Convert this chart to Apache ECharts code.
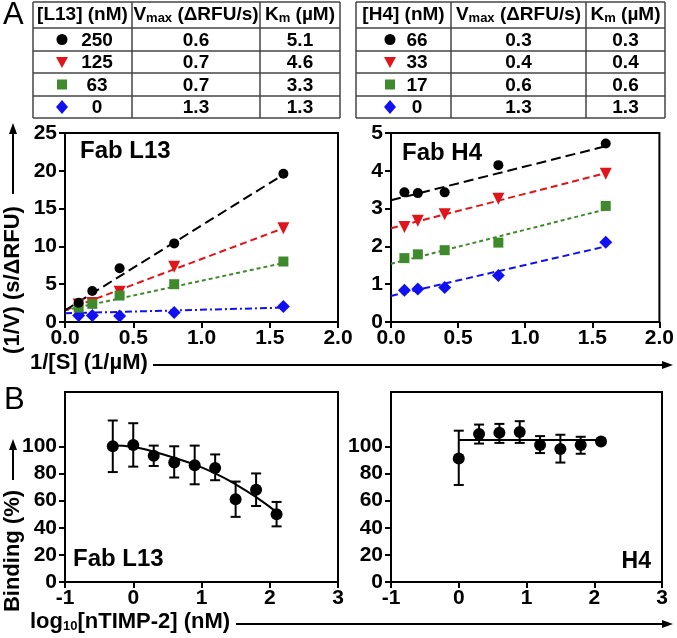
<!DOCTYPE html>
<html>
<head>
<meta charset="utf-8">
<title>ECharts</title>
<script src="https://cdn.jsdelivr.net/npm/echarts@6/dist/echarts.min.js"></script>
</head>
<body style="margin:0;background:#fff">
<div id="main" style="width:677px;height:638px;"></div>
<script type="text/javascript">
// Lineweaver-Burk data (1/[S] in 1/uM, 1/V in s/dRFU)
var invS = [0.1, 0.2, 0.4, 0.8, 1.6];
var l13Black = [2.55, 4.1, 7.1, 10.4, 19.6];
var l13Red = [2.3, 2.5, 4.0, 7.3, 12.4];
var l13Green = [1.9, 2.4, 3.5, 5.0, 8.0];
var l13Blue = [0.85, 0.85, 0.8, 1.25, 2.05];
var l13BlackFit = [[0, 1.55], [1.6, 19.5]];
var l13RedFit = [[0, 1.55], [1.6, 12.4]];
var l13GreenFit = [[0, 1.55], [1.6, 7.8]];
var l13BlueFit = [[0, 1.15], [1.6, 1.9]];

var h4Black = [3.43, 3.41, 3.43, 4.15, 4.72];
var h4Red = [2.51, 2.68, 2.85, 3.26, 3.92];
var h4Green = [1.69, 1.79, 1.9, 2.1, 3.07];
var h4Blue = [0.84, 0.87, 0.91, 1.23, 2.11];
var h4BlackFit = [[0, 3.22], [1.6, 4.65]];
var h4RedFit = [[0, 2.48], [1.6, 3.94]];
var h4GreenFit = [[0, 1.54], [1.6, 2.98]];
var h4BlueFit = [[0, 0.69], [1.6, 2.0]];

// table values
var l13Conc = ['250', '125', '63', '0'];
var l13Vmax = ['0.6', '0.7', '0.7', '1.3'];
var l13Km = ['5.1', '4.6', '3.3', '1.3'];
var h4Conc = ['66', '33', '17', '0'];
var h4Vmax = ['0.3', '0.4', '0.6', '1.3'];
var h4Km = ['0.3', '0.4', '0.6', '1.3'];

// binding vs log10[nTIMP-2]
var logL13 = [-0.3, 0, 0.3, 0.6, 0.9, 1.2, 1.5, 1.8, 2.1];
var l13Bind = [100, 101, 93, 88, 86, 84, 61, 68, 50];
var l13Lo = [81, 85, 85.5, 77, 72, 75, 48, 56, 41];
var l13Hi = [119, 117, 100.5, 100, 100.5, 94, 74, 80, 59];
var l13Curve = [100.5, 99.5, 96, 91.5, 86.5, 80, 72, 62.5, 51.5];

var logH4 = [0, 0.3, 0.6, 0.9, 1.2, 1.5, 1.8, 2.1];
var h4Bind = [91, 109, 110, 110.5, 101, 98, 101, 103.5];
var h4Lo = [71.5, 102, 102.5, 102.5, 95, 88, 94.5, 102];
var h4Hi = [111.5, 116, 116.5, 118.5, 107.5, 108.5, 107, 104.5];
var h4Fit = [[0, 104.7], [2.1, 104.7]];

var FONT = 'Liberation Sans';
var groups = [
    {color: '#000000', symbol: 'circle', size: 10, rotate: 0, dash: [10, 5]},
    {color: '#e0141b', symbol: 'triangle', size: 12, rotate: 180, dash: [7, 4]},
    {color: '#3f8a2c', symbol: 'rect', size: 10, rotate: 0, dash: [4, 3]},
    {color: '#1010f0', symbol: 'diamond', size: 13, rotate: 0, dash: [7, 3, 2, 3]}
];

var myChart = echarts.init(document.getElementById('main'));

function axisBase(extra) {
    var a = {
        axisLine: {show: true, onZero: false, lineStyle: {color: '#000', width: 2}},
        axisTick: {show: true, length: 6, lineStyle: {color: '#000', width: 2}},
        axisLabel: {color: '#000', fontSize: 21, fontWeight: 'bold', fontFamily: FONT, margin: 8},
        splitLine: {show: false}
    };
    for (var k in extra) {
        if (k === 'axisLabel' || k === 'axisTick') {
            for (var j in extra[k]) a[k][j] = extra[k][j];
        } else {
            a[k] = extra[k];
        }
    }
    return a;
}

var series = [];
function addKinetics(idx, sets, fits, blueDash) {
    // blue first, black last so black sits on top
    for (var g = 3; g >= 0; g--) {
        series.push({
            type: 'line', xAxisIndex: idx, yAxisIndex: idx, data: fits[g],
            symbol: 'none', silent: true,
            lineStyle: {color: groups[g].color, width: 2, type: g === 3 ? blueDash : groups[g].dash}
        });
    }
    var order = [3, 1, 2, 0];
    for (var o = 0; o < 4; o++) {
        var gi = order[o];
        series.push({
            type: 'scatter', xAxisIndex: idx, yAxisIndex: idx,
            data: invS.map(function (x, i) { return [x, sets[gi][i]]; }),
            symbol: groups[gi].symbol, symbolSize: groups[gi].size, symbolRotate: groups[gi].rotate,
            itemStyle: {color: groups[gi].color, opacity: 1}, z: 3
        });
    }
}
addKinetics(0, [l13Black, l13Red, l13Green, l13Blue], [l13BlackFit, l13RedFit, l13GreenFit, l13BlueFit], [7, 3, 2, 3]);
addKinetics(1, [h4Black, h4Red, h4Green, h4Blue], [h4BlackFit, h4RedFit, h4GreenFit, h4BlueFit], [7, 4]);

function errorBars(params, api) {
    var x = api.value(0);
    var top = api.coord([x, api.value(2)]);
    var bot = api.coord([x, api.value(1)]);
    var w = 5;
    var st = {stroke: '#000', lineWidth: 2};
    return {type: 'group', children: [
        {type: 'line', shape: {x1: top[0], y1: top[1], x2: bot[0], y2: bot[1]}, style: st},
        {type: 'line', shape: {x1: top[0] - w, y1: top[1], x2: top[0] + w, y2: top[1]}, style: st},
        {type: 'line', shape: {x1: bot[0] - w, y1: bot[1], x2: bot[0] + w, y2: bot[1]}, style: st}
    ]};
}
function addBinding(idx, xs, ys, lo, hi, curve) {
    series.push({
        type: 'line', xAxisIndex: idx, yAxisIndex: idx, data: curve, smooth: curve.length > 2,
        symbol: 'none', silent: true, lineStyle: {color: '#000', width: 2}
    });
    series.push({
        type: 'custom', xAxisIndex: idx, yAxisIndex: idx, renderItem: errorBars,
        data: xs.map(function (x, i) { return [x, lo[i], hi[i]]; }),
        encode: {x: 0, y: [1, 2]}, z: 2
    });
    series.push({
        type: 'scatter', xAxisIndex: idx, yAxisIndex: idx,
        data: xs.map(function (x, i) { return [x, ys[i]]; }),
        symbol: 'circle', symbolSize: 12, itemStyle: {color: '#000', opacity: 1}, z: 3
    });
}
addBinding(2, logL13, l13Bind, l13Lo, l13Hi, logL13.map(function (x, i) { return [x, l13Curve[i]]; }));
addBinding(3, logH4, h4Bind, h4Lo, h4Hi, h4Fit);

// ---- graphic: tables, panel letters, labels, axis titles with arrows
var graphic = [];
function txt(x, y, s, size, opt) {
    opt = opt || {};
    graphic.push({
        type: 'text', x: x, y: y, rotation: opt.rotation || 0, z: 10,
        style: {
            text: s, fill: '#000', fontSize: size, fontWeight: opt.weight || 'bold',
            fontFamily: FONT, align: opt.align || 'center', verticalAlign: opt.valign || 'middle',
            rich: opt.rich
        }
    });
}
function seg(x1, y1, x2, y2, color, w) {
    graphic.push({type: 'line', z: 10, shape: {x1: x1, y1: y1, x2: x2, y2: y2},
        style: {stroke: color || '#000', lineWidth: w || 2}});
}
function marker(g, cx, cy) {
    var c = groups[g].color, s;
    if (g === 0) {
        graphic.push({type: 'circle', z: 10, shape: {cx: cx, cy: cy, r: 5.5}, style: {fill: c}});
    } else if (g === 1) {
        s = 6;
        graphic.push({type: 'polygon', z: 10, shape: {points: [[cx - s, cy - 5], [cx + s, cy - 5], [cx, cy + 6]]}, style: {fill: c}});
    } else if (g === 2) {
        graphic.push({type: 'rect', z: 10, shape: {x: cx - 5, y: cy - 5, width: 10, height: 10}, style: {fill: c}});
    } else {
        s = 7;
        graphic.push({type: 'polygon', z: 10, shape: {points: [[cx, cy - s], [cx + 6, cy], [cx, cy + s], [cx - 6, cy]]}, style: {fill: c}});
    }
}
var subRich = {s: {fontSize: 13, fontWeight: 'bold', fontFamily: FONT, verticalAlign: 'bottom', lineHeight: 8}};
function table(cols, rows, head, conc, vmax, km, symX, numX) {
    var i;
    for (i = 0; i < rows.length; i++) seg(cols[0], rows[i], cols[3], rows[i], '#444', 1.5);
    for (i = 0; i < cols.length; i++) seg(cols[i], rows[0], cols[i], rows[rows.length - 1], '#444', 1.5);
    var hy = (rows[0] + rows[1]) / 2;
    txt((cols[0] + cols[1]) / 2, hy, head, 19);
    txt((cols[1] + cols[2]) / 2, hy, 'V{s|max} (ΔRFU/s)', 19, {rich: subRich});
    txt((cols[2] + cols[3]) / 2, hy, 'K{s|m} (µM)', 19, {rich: subRich});
    for (i = 0; i < 4; i++) {
        var cy = (rows[i + 1] + rows[i + 2]) / 2;
        marker(i, symX, cy);
        txt(numX, cy + 1, conc[i], 19);
        txt((cols[1] + cols[2]) / 2, cy + 1, vmax[i], 19);
        txt((cols[2] + cols[3]) / 2, cy + 1, km[i], 19);
    }
}
table([33, 132, 260, 340], [2, 28, 51, 73, 96, 118], '[L13] (nM)', l13Conc, l13Vmax, l13Km, 62, 97);
table([356, 451, 586, 665], [2, 28, 51, 73, 96, 118], '[H4] (nM)', h4Conc, h4Vmax, h4Km, 390, 417);

txt(3, 15, 'A', 31, {weight: 'normal', align: 'left'});
txt(4, 400, 'B', 31, {weight: 'normal', align: 'left'});

txt(80, 151, 'Fab L13', 24, {align: 'left'});
txt(402, 153, 'Fab H4', 24, {align: 'left'});
txt(73, 559, 'Fab L13', 24, {align: 'left'});
txt(651, 562, 'H4', 23, {align: 'right'});

// axis titles
txt(13, 280, '(1/V) (s/ΔRFU)', 22, {rotation: Math.PI / 2});
seg(13, 194, 13, 130);
graphic.push({type: 'polygon', z: 10, shape: {points: [[9, 134], [17, 134], [13, 123]]}, style: {fill: '#000'}});
txt(30, 363, '1/[S] (1/µM)', 22, {align: 'left'});
seg(153, 365, 665, 365);
graphic.push({type: 'polygon', z: 10, shape: {points: [[662, 361], [662, 369], [673, 365]]}, style: {fill: '#000'}});

txt(13, 551, 'Binding (%)', 22, {rotation: Math.PI / 2});
seg(13, 480, 13, 446);
graphic.push({type: 'polygon', z: 10, shape: {points: [[9, 450], [17, 450], [13, 439]]}, style: {fill: '#000'}});
txt(30, 622, 'log{s|10}[nTIMP-2] (nM)', 22, {align: 'left', rich: subRich});
seg(236, 624, 665, 624);
graphic.push({type: 'polygon', z: 10, shape: {points: [[662, 620], [662, 628], [673, 624]]}, style: {fill: '#000'}});

var gridBox = {show: true, borderColor: '#000', borderWidth: 2, containLabel: false};
function grid(l, t, w, h) {
    var g = {left: l, top: t, width: w, height: h};
    for (var k in gridBox) g[k] = gridBox[k];
    return g;
}
var bindTicks = [0, 20, 40, 60, 80, 100];
var fix1 = function (v) { return v.toFixed(1); };

myChart.setOption({
    animation: false,
    backgroundColor: '#fff',
    grid: [grid(65, 133, 273, 189), grid(391, 133, 270, 189), grid(65, 392, 273, 190), grid(391, 392, 271, 190)],
    xAxis: [
        axisBase({gridIndex: 0, type: 'value', min: 0, max: 2, interval: 0.5, axisLabel: {formatter: fix1, margin: 6}}),
        axisBase({gridIndex: 1, type: 'value', min: 0, max: 2, interval: 0.5, axisLabel: {formatter: fix1, margin: 6}}),
        axisBase({gridIndex: 2, type: 'value', min: -1, max: 3, interval: 1, axisLabel: {margin: 6}}),
        axisBase({gridIndex: 3, type: 'value', min: -1, max: 3, interval: 1, axisLabel: {margin: 6}})
    ],
    yAxis: [
        axisBase({gridIndex: 0, type: 'value', min: 0, max: 25, interval: 5}),
        axisBase({gridIndex: 1, type: 'value', min: 0, max: 5, interval: 1}),
        axisBase({gridIndex: 2, type: 'value', min: 0, max: 140, interval: 20,
            axisTick: {customValues: bindTicks},
            axisLabel: {customValues: bindTicks, formatter: function (v) { return v > 100 ? '' : v; }}}),
        axisBase({gridIndex: 3, type: 'value', min: 0, max: 140, interval: 20,
            axisTick: {customValues: bindTicks},
            axisLabel: {customValues: bindTicks, formatter: function (v) { return v > 100 ? '' : v; }}})
    ],
    graphic: graphic,
    series: series
});
</script>
</body>
</html>
